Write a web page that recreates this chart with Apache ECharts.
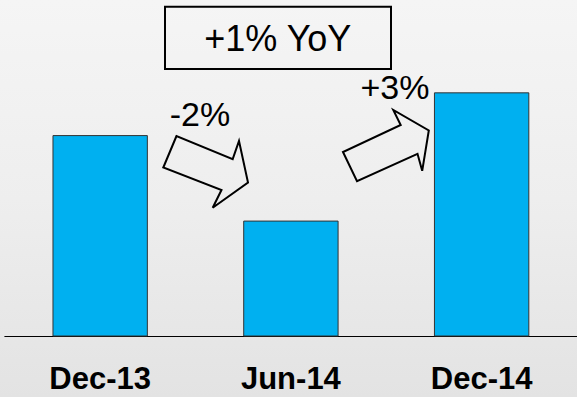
<!DOCTYPE html>
<html>
<head>
<meta charset="utf-8">
<script src="https://cdn.jsdelivr.net/npm/echarts@6/dist/echarts.min.js"></script>
<style>
  html, body { margin: 0; padding: 0; }
  #chart { width: 577px; height: 397px; }
</style>
</head>
<body>
<div id="chart"></div>
<script>
// Data (index values; axis hidden in original)
var categories = ['Dec-13', 'Jun-14', 'Dec-14'];
var values = [100, 98, 101];
var changeLabels = ['-2%', '+3%'];
var yoyLabel = '+1% YoY';

var chart = echarts.init(document.getElementById('chart'), null, { renderer: 'svg' });

var font = '"Liberation Sans", Arial, sans-serif';

var option = {
  animation: false,
  backgroundColor: {
    type: 'linear', x: 0, y: 0, x2: 0, y2: 1,
    colorStops: [
      { offset: 0, color: '#f5f5f5' },
      { offset: 0.5, color: '#eeeeee' },
      { offset: 1, color: '#e3e3e3' }
    ]
  },
  grid: { left: 4.8, right: -3.5, top: 0, bottom: 61, containLabel: false },
  xAxis: {
    type: 'category',
    data: categories,
    axisLine: { show: true, lineStyle: { color: '#000', width: 1 } },
    axisTick: { show: false },
    axisLabel: {
      interval: 0,
      margin: 27,
      color: '#000',
      fontSize: 31,
      fontWeight: 'bold',
      fontFamily: font
    },
    splitLine: { show: false }
  },
  yAxis: {
    type: 'value',
    min: 95.3,
    max: 103.16,
    show: false,
    splitLine: { show: false }
  },
  series: [{
    type: 'bar',
    data: values,
    barWidth: '50%',
    itemStyle: { color: '#00B0F0', borderColor: '#333333', borderWidth: 1 }
  }],
  graphic: [
    {
      type: 'rect',
      shape: { x: 165, y: 6.7, width: 226, height: 62.3 },
      style: { fill: 'none', stroke: '#000', lineWidth: 2 }
    },
    {
      type: 'text',
      x: 277.8, y: 38.5,
      style: {
        text: yoyLabel, fill: '#000', font: '36px ' + font,
        textAlign: 'center', textVerticalAlign: 'middle'
      }
    },
    {
      type: 'text',
      x: 200, y: 114,
      style: {
        text: changeLabels[0], fill: '#000', font: '34px ' + font,
        textAlign: 'center', textVerticalAlign: 'middle'
      }
    },
    {
      type: 'text',
      x: 395, y: 87,
      style: {
        text: changeLabels[1], fill: '#000', font: '34px ' + font,
        textAlign: 'center', textVerticalAlign: 'middle'
      }
    },
    {
      type: 'polygon',
      shape: { points: [[176.5, 136], [163.3, 167.5], [221.5, 190], [212.7, 207.8], [248, 182.5], [239, 141], [232.7, 159.2]] },
      style: { fill: 'none', stroke: '#000', lineWidth: 2 }
    },
    {
      type: 'polygon',
      shape: { points: [[343, 152], [357, 181.2], [417.5, 153.8], [422.2, 170.8], [428.8, 130.5], [393.3, 110], [400.7, 125]] },
      style: { fill: 'none', stroke: '#000', lineWidth: 2 }
    }
  ]
};

chart.setOption(option);
</script>
</body>
</html>
